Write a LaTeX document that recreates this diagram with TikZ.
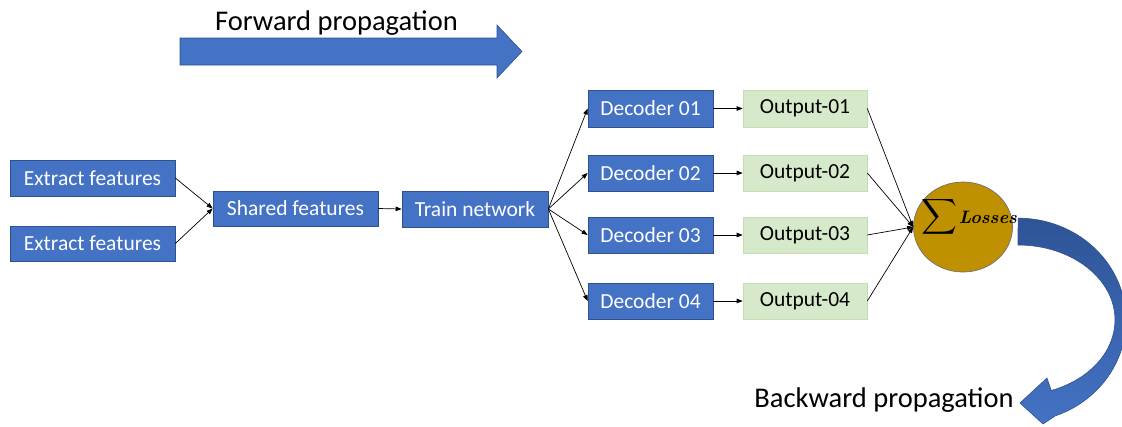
\documentclass[tikz,border=0pt]{standalone}
\usepackage{amsmath}
\usepackage{fontspec}
\setmainfont{Carlito}
\newfontfamily\lossfont{Latin Modern Roman}
\usetikzlibrary{arrows.meta,shapes.geometric}
\definecolor{blockblue}{HTML}{4472C4}
\definecolor{blockline}{HTML}{2F528F}
\definecolor{darkblue}{HTML}{2E5496}
\definecolor{outgreen}{HTML}{D7E9CB}
\definecolor{outline}{HTML}{C3DDB2}
\definecolor{lossgold}{HTML}{BF9000}
\definecolor{lossline}{HTML}{6F6F6F}
\begin{document}
\begin{tikzpicture}[x=1pt,y=-1pt,
    block/.style={draw=blockline,fill=blockblue,text=white,line width=0.7pt,
      inner sep=0pt,minimum height=36pt,font=\fontsize{21.5}{24}\selectfont},
    outbox/.style={draw=outline,fill=outgreen,text=black,line width=0.6pt,
      inner sep=0pt,minimum width=124pt,minimum height=36pt,font=\fontsize{21.5}{24}\selectfont},
    caption/.style={anchor=base,inner sep=0pt,font=\fontsize{28.5}{32}\selectfont},
    link/.style={-{Triangle[length=6pt,width=4.5pt]},line width=0.7pt}]
  \useasboundingbox (0,0) rectangle (1122,426);
  \clip (0,0) rectangle (1122,426);
  % propagation arrows
  \filldraw[fill=blockblue,draw=blockline,line width=0.6pt]
    (180,38) -- (497,38) -- (497,25) -- (522,51.5) -- (497,78) -- (497,65) -- (180,65) -- cycle;
  \shade[top color=darkblue,bottom color=blockblue,draw=blockline,line width=0.6pt]
    (1018,245) arc[start angle=-90,end angle=70,x radius=97,y radius=75]
    -- (1047,378) -- (1020,403) -- (1043,424) -- (1055,416)
    arc[start angle=70,end angle=-90,x radius=108,y radius=102] -- cycle;
  \node[caption] (fwd) at (336.5,30) {Forward propagation};
  \node[caption] (bwd) at (884,407) {Backward propagation};
  % blocks
  \draw
    (92.5,178) node[block,minimum width=165pt] (ext1){Extract features}
    (92.5,243.5) node[block,minimum width=165pt,minimum height=35pt] (ext2){Extract features}
    (295.5,208.5) node[block,minimum width=165pt,minimum height=35pt] (shared){Shared features}
    (475,209) node[block,minimum width=146pt] (train){Train network}
    (650.5,108.5) node[block,minimum width=125pt,minimum height=37pt] (dec1){Decoder 01}
    (650.5,173) node[block,minimum width=125pt] (dec2){Decoder 02}
    (650.5,235) node[block,minimum width=125pt] (dec3){Decoder 03}
    (650.5,301) node[block,minimum width=125pt] (dec4){Decoder 04}
    (805,108.5) node[outbox,minimum height=37pt] (out1){Output-01}
    (805,173) node[outbox] (out2){Output-02}
    (805,235) node[outbox] (out3){Output-03}
    (805,301) node[outbox] (out4){Output-04}
    (963,227) node[ellipse,draw=lossline,fill=lossgold,line width=0.7pt,
      minimum width=99pt,minimum height=90pt] (loss){};
  \node[anchor=base west,inner sep=0pt] (losstext) at (921,223)
    {{\fontsize{26}{30}\selectfont$\displaystyle\sum$}\,{\lossfont\bfseries\itshape\fontsize{18}{22}\selectfont Losses}};
  \begin{scope}[link]
    \draw (ext1.east) to (shared.west);
    \draw (ext2.east) to (shared.west);
    \draw (shared.east) to (train.west);
    \draw (train.east) to (dec1.west);
    \draw (train.east) to (dec2.west);
    \draw (train.east) to (dec3.west);
    \draw (train.east) to (dec4.west);
    \draw (dec1.east) to (out1.west);
    \draw (dec2.east) to (out2.west);
    \draw (dec3.east) to (out3.west);
    \draw (dec4.east) to (out4.west);
    \draw (out1.east) to (loss.west);
    \draw (out2.east) to (loss.west);
    \draw (out3.east) to (loss.west);
    \draw (out4.east) to (loss.west);
  \end{scope}
\end{tikzpicture}
\end{document}
